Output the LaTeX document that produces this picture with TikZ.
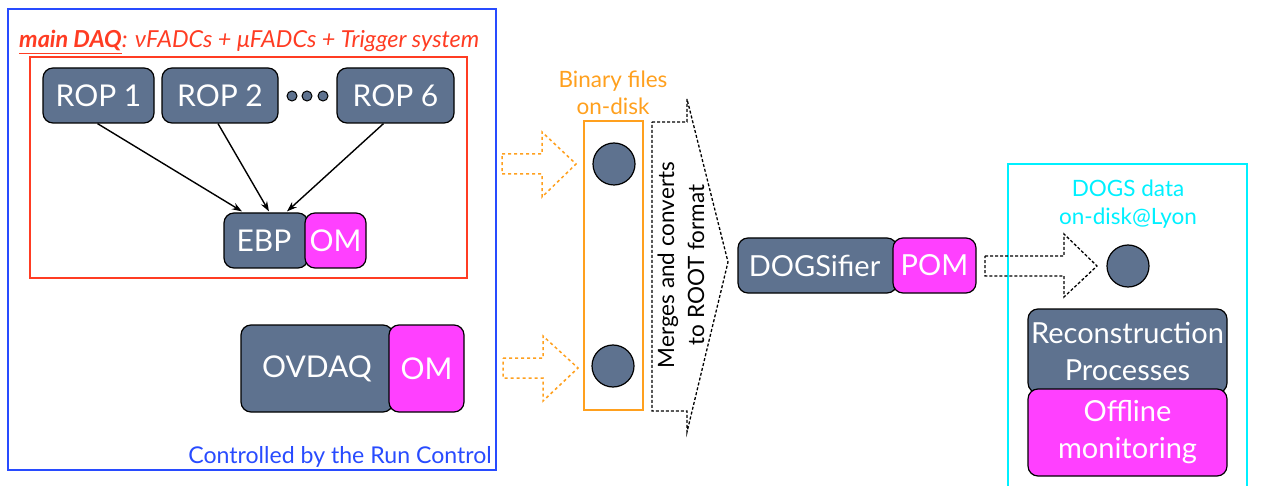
\documentclass[tikz,border=0pt]{standalone}
\usepackage{fontspec}
\setmainfont{Lato}
\usetikzlibrary{calc,arrows.meta}
\definecolor{slate}{RGB}{94,114,143}
\definecolor{mag}{RGB}{255,64,255}
\definecolor{daqred}{RGB}{255,60,35}
\definecolor{rcblue}{RGB}{40,75,255}
\definecolor{binor}{RGB}{255,160,30}
\definecolor{lyon}{RGB}{0,240,255}
\tikzset{
  procbox/.style={draw=black, line width=1.2pt, fill=slate, rounded corners=10pt,
     text=white, inner sep=0pt, font=\fontsize{30}{34}\selectfont},
  ombox/.style={procbox, fill=mag},
  disk/.style={circle, draw=black, line width=1.2pt, fill=slate, minimum size=42pt, inner sep=0pt},
  feed/.style={-{Stealth[length=10pt,width=7pt]}, line width=1.4pt, black},
  orarrow/.style={draw=binor, line width=1.5pt, dash pattern=on 3pt off 3pt},
  dotarrow/.style={draw=black, line width=1.3pt, dash pattern=on 3pt off 2pt},
  lbl/.style={font=\fontsize{22.5}{27}\selectfont, inner sep=0pt, anchor=base}
}
\begin{document}
\begin{tikzpicture}[x=1pt,y=-1pt]
\useasboundingbox (0,0) rectangle (1287,486);
% frames
\draw[rcblue, line width=1.3pt] (8,9) rectangle (496,470);
\draw[daqred, line width=1.3pt] (30,57) rectangle (467,278);
\draw[binor, line width=1.5pt] (584,121) rectangle (643,410);
\draw[lyon, line width=1.3pt] (1008,486) -- (1008,164) -- (1247,164) -- (1247,486);
% titles
\node[anchor=base west, inner sep=0pt, text=daqred, font=\fontsize{23.4}{27}\selectfont\itshape] (title) at (19,48)
  {\underline{\textbf{main DAQ}}: νFADCs + μFADCs + Trigger system};
\node[anchor=base east, inner sep=0pt, text=rcblue, font=\fontsize{23.1}{27}\selectfont] (rc) at (492,463) {Controlled by the Run Control};
% ROPs
\node[procbox, minimum width=111pt, minimum height=55pt] (rop1) at (98.5,95.5) {ROP 1};
\node[procbox, minimum width=116pt, minimum height=55pt] (rop2) at (220,95.5) {ROP 2};
\node[procbox, minimum width=117pt, minimum height=55pt] (rop6) at (395.5,95.5) {ROP 6};
\foreach \x/\n in {292/d1,307/d2,323/d3}
  \node[circle, draw=black, line width=1pt, fill=slate, minimum size=10pt, inner sep=0pt] (\n) at (\x,96) {};
% EBP
\node[procbox, minimum width=84pt, minimum height=55pt] (ebp) at (266,240.5) {EBP\hspace*{4pt}};
\node[ombox, minimum width=61pt, minimum height=55pt] (om1) at (335.5,240.5) {OM};
\draw[feed] ($(rop1.south)+(-1,0)$) -- ($(ebp.north)+(-24,-1)$);
\draw[feed] ($(rop2.south)+(-2,0)$) -- ($(ebp.north)+(3,-1)$);
\draw[feed] ($(rop6.south)+(-12,0)$) -- ($(ebp.north)+(21,-1)$);
% OVDAQ
\node[procbox, minimum width=152pt, minimum height=87pt] (ovdaq) at (317,368.5) {OVDAQ};
\node[ombox, minimum width=75pt, minimum height=87pt] (om2) at (426.5,368.5) {OM};
% binary files
\node[lbl, text=binor] (bin1) at (613,88) {Binary files};
\node[lbl, text=binor] (bin2) at (613,115) {on-disk};
\node[disk] (f1) at (614,164) {};
\node[disk] (f2) at (613,366) {};
\draw[orarrow] (502,154) -- (542,154) -- (542,132) -- (576,164) -- (542,197) -- (542,174) -- (502,174) -- cycle;
\draw[orarrow] (503,358) -- (543,358) -- (543,336) -- (578,368) -- (543,401) -- (543,378) -- (503,378) -- cycle;
% merge arrow
\draw[dotarrow] (652,122) -- (687,122) -- (687,99) -- (728,262) -- (687,432) -- (687,411) -- (652,411) -- cycle;
\node[align=center, inner sep=0pt, rotate=90, text=black, font=\fontsize{22.5}{30}\selectfont] (merge) at (681,265) {Merges and converts\\to ROOT format};
% DOGSifier
\node[procbox, minimum width=159pt, minimum height=55pt, font=\fontsize{29}{33}\selectfont] (dogs) at (817.5,265.5) {DOGSifier\hspace*{6pt}};
\node[ombox, minimum width=83pt, minimum height=55pt, font=\fontsize{29}{33}\selectfont] (pom) at (934.5,265.5) {POM};
\draw[dotarrow] (985,256) -- (1064,256) -- (1064,234) -- (1097,266) -- (1064,297) -- (1064,276) -- (985,276) -- cycle;
% Lyon
\node[lbl, text=lyon] (lyon1) at (1128,197) {DOGS data};
\node[lbl, text=lyon] (lyon2) at (1128,225) {on-disk@Lyon};
\node[disk] (f3) at (1128,266) {};
\node[procbox, minimum width=199pt, minimum height=84pt, align=center, font=\fontsize{29}{37}\selectfont] (reco) at (1127.5,351) {Reconstruction\\Processes};
\node[ombox, minimum width=199pt, minimum height=87pt, align=center, font=\fontsize{29}{37}\selectfont] (offm) at (1127.5,432.5) {Offline\\monitoring};
\end{tikzpicture}
\end{document}
